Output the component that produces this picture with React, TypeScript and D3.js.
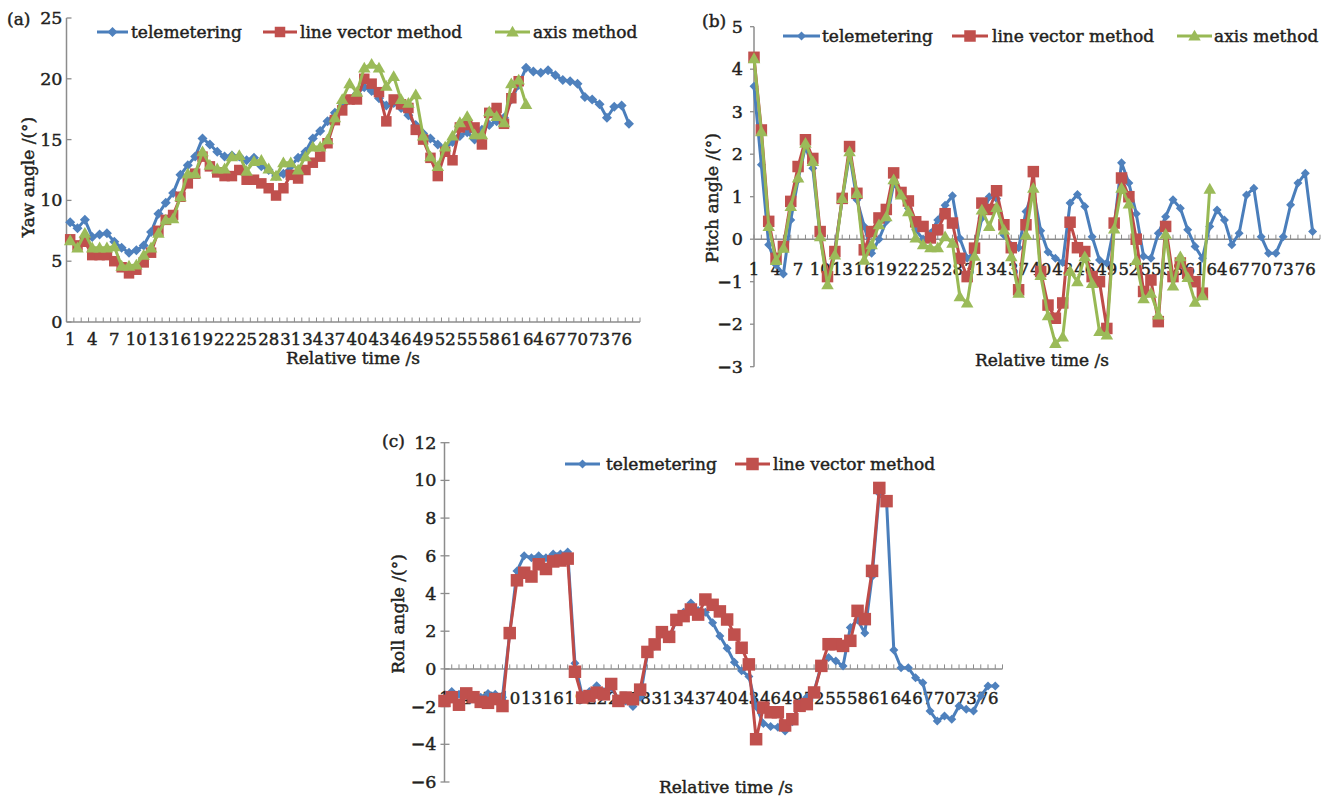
import React from 'react';
import * as d3 from 'd3';

// ---------- data ----------
const X_TICK_LABELS = [1, 4, 7, 10, 13, 16, 19, 22, 25, 28, 31, 34, 37, 40, 43, 46, 49, 52, 55, 58, 61, 64, 67, 70, 73, 76];
const YAW_TICKS = [0, 5, 10, 15, 20, 25];
const PITCH_TICKS = [-3, -2, -1, 0, 1, 2, 3, 4, 5];
const ROLL_TICKS = [-6, -4, -2, 0, 2, 4, 6, 8, 10, 12];
const CATEGORY_COUNT = 78;

const SERIES_NAMES = ['telemetering', 'line vector method', 'axis method'];

const yawTele = [8.2, 7.7, 8.4, 7.0, 7.2, 7.3, 6.6, 6.1, 5.7, 5.9, 6.3, 7.4, 8.9, 9.8, 10.6, 12.1, 12.9, 13.6, 15.1, 14.6, 14.0, 13.6, 13.7, 13.6, 13.3, 13.5, 12.8, 12.5, 12.0, 12.2, 12.8, 13.5, 14.0, 15.1, 15.7, 16.5, 17.2, 17.8, 18.3, 18.8, 19.3, 19.0, 18.4, 17.8, 18.0, 17.6, 17.0, 16.2, 15.5, 15.1, 14.6, 14.3, 14.8, 15.3, 15.6, 15.0, 15.8, 16.2, 16.5, 16.8, 18.3, 19.5, 20.9, 20.6, 20.5, 20.7, 20.3, 19.9, 19.8, 19.6, 18.5, 18.3, 17.9, 16.8, 17.7, 17.8, 16.3];
const yawLine = [6.8, 6.3, 6.6, 5.5, 5.5, 5.5, 5.0, 4.5, 4.0, 4.3, 4.9, 5.7, 7.5, 8.4, 8.8, 10.3, 11.4, 12.2, 13.6, 12.8, 12.3, 12.0, 12.0, 12.5, 11.7, 11.7, 11.4, 11.0, 10.4, 11.0, 12.1, 11.8, 12.5, 13.1, 13.6, 14.7, 16.6, 17.4, 18.3, 18.3, 20.0, 19.6, 18.9, 16.5, 18.3, 17.9, 17.6, 15.8, 15.0, 13.5, 12.0, 14.0, 13.3, 16.0, 16.2, 16.0, 14.6, 17.2, 17.6, 16.3, 18.4, 19.8];
const yawAxis = [6.7, 6.1, 7.3, 6.1, 6.1, 6.1, 6.2, 4.6, 4.6, 4.7, 5.5, 6.1, 7.3, 8.4, 8.5, 10.3, 12.2, 12.2, 14.0, 12.9, 12.6, 12.6, 13.6, 13.7, 12.4, 13.2, 13.3, 12.6, 12.0, 13.1, 13.1, 12.5, 13.6, 14.4, 14.4, 15.0, 16.8, 18.3, 19.6, 18.9, 20.9, 21.2, 20.9, 19.4, 20.2, 18.3, 18.0, 18.7, 15.3, 13.6, 12.8, 14.4, 15.3, 16.4, 16.9, 15.4, 15.4, 17.3, 16.9, 16.4, 19.6, 19.9, 17.9];

const pitchTele = [3.6, 1.75, -0.13, -0.6, -0.82, 0.45, 1.4, 2.18, 1.67, 0.06, -0.95, -0.25, 0.93, 2.0, 0.93, 0.3, -0.33, 0.0, 0.42, 1.3, 1.08, 0.73, 0.22, 0.0, 0.14, 0.45, 0.8, 1.02, 0.02, -0.45, -0.3, 0.5, 1.0, 0.95, 0.1, -0.15, -0.2, 0.65, 1.15, 0.2, -0.3, -0.45, -0.55, 0.85, 1.05, 0.77, 0.06, -0.49, -0.56, 0.3, 1.8, 1.32, 0.6, -0.4, -0.45, 0.14, 0.53, 0.93, 0.73, 0.22, -0.17, -0.45, 0.3, 0.69, 0.45, -0.13, 0.14, 1.04, 1.2, 0.06, -0.33, -0.33, 0.06, 0.81, 1.32, 1.55, 0.18];
const pitchLine = [4.28, 2.57, 0.42, -0.45, -0.17, 0.89, 1.71, 2.34, 1.9, 0.18, -0.88, -0.29, 0.96, 2.18, 1.08, -0.25, 0.18, 0.5, 0.7, 1.56, 1.1, 0.9, 0.41, 0.3, 0.03, 0.22, 0.6, 0.38, -0.45, -0.88, -0.21, 0.85, 0.7, 1.14, 0.34, -0.2, -1.19, 0.34, 1.59, -0.76, -1.55, -1.86, -1.5, 0.4, -0.2, -0.29, -0.88, -1.0, -2.1, 0.38, 1.44, 1.0, 0.0, -1.23, -0.96, -1.94, 0.3, -0.88, -0.56, -0.8, -1.0, -1.27];
const pitchAxis = [4.25, 2.53, 0.3, -0.5, -0.21, 0.77, 1.44, 2.26, 1.83, 0.06, -1.07, -0.37, 0.96, 2.06, 1.08, -0.49, -0.13, 0.34, 0.53, 1.4, 1.04, 0.65, 0.03, -0.13, -0.2, -0.2, 0.06, -0.09, -1.35, -1.5, -0.4, 0.69, 0.3, 0.75, 0.22, -0.41, -1.27, 0.1, 1.2, -0.85, -1.8, -2.45, -2.3, -0.75, -1.0, -0.41, -1.04, -2.17, -2.25, 0.24, 1.2, 0.83, -0.5, -1.4, -1.27, -1.78, 0.12, -1.1, -0.41, -0.9, -1.48, -1.33, 1.18];

const rollTele = [-1.6, -1.2, -1.35, -1.4, -1.5, -1.5, -1.3, -1.35, -1.5, 1.9, 5.2, 6.0, 5.9, 6.0, 5.9, 6.1, 6.1, 6.2, 0.3, -1.4, -1.2, -0.9, -1.2, -1.0, -1.6, -1.7, -2.0, -1.5, 0.8, 1.2, 1.9, 1.6, 2.6, 3.0, 3.5, 3.1, 3.0, 2.45, 1.74, 1.1, 0.35, -0.1, -0.4, -2.0, -2.9, -3.05, -3.1, -3.3, -2.8, -1.8, -1.5, -1.2, 0.2, 0.6, 0.42, 0.15, 2.2, 2.6, 1.9, 4.9, 9.3, 8.9, 1.0, 0.06, 0.06, -0.47, -0.73, -2.24, -2.77, -2.5, -2.67, -1.97, -2.14, -2.24, -1.44, -0.91, -0.91];
const rollLine = [-1.7, -1.5, -1.9, -1.3, -1.5, -1.75, -1.8, -1.6, -1.97, 1.9, 4.7, 5.1, 4.9, 5.55, 5.3, 5.7, 5.75, 5.85, -0.15, -1.52, -1.44, -1.26, -1.35, -0.8, -1.7, -1.52, -1.61, -1.1, 0.9, 1.3, 1.95, 1.7, 2.6, 2.8, 3.15, 2.88, 3.68, 3.4, 3.05, 2.62, 1.82, 1.12, 0.24, -3.73, -2.05, -2.3, -2.3, -3.0, -2.67, -1.96, -1.87, -1.25, 0.16, 1.31, 1.31, 1.22, 1.49, 3.08, 2.64, 5.2, 9.6, 8.9];

// ---------- styles ----------
const FONT = '"DejaVu Serif", "Liberation Serif", serif';
const TEXT = '#231f20';
const AXIS = '#8c8c8c';
const BLUE = { line: '#4A7EBB', fill: '#4F81BD' };
const RED = { line: '#BE4B48', fill: '#C0504D' };
const GREEN = { line: '#98B954', fill: '#9BBB59' };
const TXT = { fill: TEXT, stroke: TEXT, strokeWidth: 0.45 };

type MarkerKind = 'diamond' | 'square' | 'triangle';

interface SeriesDef {
  name: string;
  values: number[];
  color: { line: string; fill: string };
  marker: MarkerKind;
  size: number;
}

function Marker({ kind, size, x, y, fill }: { kind: MarkerKind; size: number; x: number; y: number; fill: string }) {
  if (kind === 'square') {
    return <rect x={x - size / 2} y={y - size / 2} width={size} height={size} fill={fill} />;
  }
  if (kind === 'diamond') {
    const r = size / 2;
    return <path d={`M${x},${y - r}L${x + r},${y}L${x},${y + r}L${x - r},${y}Z`} fill={fill} />;
  }
  const area = (Math.sqrt(3) / 4) * size * size;
  const p = d3.symbol(d3.symbolTriangle, area)() as string;
  return <path d={p} transform={`translate(${x},${y + 1})`} fill={fill} />;
}

interface PanelProps {
  tag: string;
  tagPos: [number, number];
  xDomain: [number, number];
  xRange: [number, number];
  yDomain: [number, number];
  yRange: [number, number];
  yTicks: number[];
  axisAt: number;
  tickPositions: number[];
  xLabelDy: number;
  yTickDir: 'in' | 'out' | 'cross';
  yLabelGap: number;
  series: SeriesDef[];
  legend: { lineX: [number, number]; textX: number }[];
  legendY: number;
  yTitle: string;
  yTitlePos: [number, number];
  xTitlePos: [number, number];
}

function fmt(v: number) {
  return v < 0 ? '\u2212' + Math.abs(v) : String(v);
}

function Panel(p: PanelProps) {
  const x = d3.scaleLinear().domain(p.xDomain).range(p.xRange);
  const y = d3.scaleLinear().domain(p.yDomain).range(p.yRange);
  const y0 = y(p.axisAt);
  const ax = p.xRange[0];
  const line = d3
    .line<number>()
    .x((_, i) => x(i + 1))
    .y((d) => y(d));
  const fs = 16.5;
  return (
    <g fontFamily={FONT}>
      <text x={p.tagPos[0]} y={p.tagPos[1]} fontSize={17} {...TXT}>{p.tag}</text>
      {/* y axis */}
      <line x1={ax} x2={ax} y1={p.yRange[1]} y2={p.yRange[0]} stroke={AXIS} strokeWidth={1.5} />
      {p.yTicks.map((t) => {
        const yy = y(t);
        const x1 = p.yTickDir === 'in' ? ax : ax - 4;
        const x2 = p.yTickDir === 'out' ? ax : ax + 5;
        return (
          <g key={t}>
            <line x1={x1} x2={x2} y1={yy} y2={yy} stroke={AXIS} strokeWidth={1.3} />
            <text x={ax - p.yLabelGap} y={yy + 6} textAnchor="end" fontSize={17.5} {...TXT}>{fmt(t)}</text>
          </g>
        );
      })}
      {/* x axis */}
      <line x1={ax} x2={p.xRange[1]} y1={y0} y2={y0} stroke={AXIS} strokeWidth={1.5} />
      {p.tickPositions.map((t) => (
        <line key={t} x1={x(t)} x2={x(t)} y1={y0} y2={y0 - 4.5} stroke={AXIS} strokeWidth={1} />
      ))}
      {X_TICK_LABELS.map((t) => (
        <text key={t} x={x(t)} y={y0 + p.xLabelDy} textAnchor="middle" fontSize={fs} {...TXT}>{t}</text>
      ))}
      {/* series */}
      {p.series.map((s) => (
        <g key={s.name}>
          <path d={line(s.values) as string} fill="none" stroke={s.color.line} strokeWidth={3} strokeLinejoin="round" />
          {s.values.map((v, i) => (
            <Marker key={i} kind={s.marker} size={s.size} x={x(i + 1)} y={y(v)} fill={s.color.fill} />
          ))}
        </g>
      ))}
      {/* legend */}
      {p.series.map((s, k) => {
        const L = p.legend[k];
        const mx = (L.lineX[0] + L.lineX[1]) / 2;
        return (
          <g key={'lg' + s.name}>
            <line x1={L.lineX[0]} x2={L.lineX[1]} y1={p.legendY} y2={p.legendY} stroke={s.color.line} strokeWidth={3} />
            <Marker kind={s.marker} size={s.size} x={mx} y={p.legendY} fill={s.color.fill} />
            <text x={L.textX} y={p.legendY + 6} fontSize={17} {...TXT}>{s.name}</text>
          </g>
        );
      })}
      {/* titles */}
      <text
        transform={`translate(${p.yTitlePos[0]},${p.yTitlePos[1]}) rotate(-90)`}
        textAnchor="middle"
        fontSize={17}
        {...TXT}
      >
        {p.yTitle}
      </text>
      <text x={p.xTitlePos[0]} y={p.xTitlePos[1]} textAnchor="middle" fontSize={17} {...TXT}>
        Relative time /s
      </text>
    </g>
  );
}

const bandTicks = d3.range(0.5, CATEGORY_COUNT + 0.51, 1);
const catTicks = d3.range(1, CATEGORY_COUNT + 1, 1);

export default function App() {
  return (
    <svg
      width={1332}
      height={798}
      style={{ position: 'absolute', left: 0, top: 0, background: '#fff' }}
    >
      <rect width={1332} height={798} fill="#fff" />
      <Panel
        tag="(a)"
        tagPos={[7, 25]}
        xDomain={[0.5, CATEGORY_COUNT + 0.5]}
        xRange={[66.5, 640]}
        yDomain={[0, 25]}
        yRange={[322, 18]}
        yTicks={YAW_TICKS}
        axisAt={0}
        tickPositions={bandTicks}
        xLabelDy={23}
        yTickDir="in"
        yLabelGap={4}
        series={[
          { name: SERIES_NAMES[0], values: yawTele, color: BLUE, marker: 'diamond', size: 10 },
          { name: SERIES_NAMES[1], values: yawLine, color: RED, marker: 'square', size: 10.5 },
          { name: SERIES_NAMES[2], values: yawAxis, color: GREEN, marker: 'triangle', size: 12.5 },
        ]}
        legend={[
          { lineX: [97, 128], textX: 131 },
          { lineX: [263, 297], textX: 300 },
          { lineX: [495, 530], textX: 533 },
        ]}
        legendY={32}
        yTitle="Yaw angle /(°)"
        yTitlePos={[34, 177]}
        xTitlePos={[353, 364]}
      />
      <Panel
        tag="(b)"
        tagPos={[702, 27]}
        xDomain={[1, CATEGORY_COUNT]}
        xRange={[754, 1320]}
        yDomain={[-3, 5]}
        yRange={[366.7, 26.7]}
        yTicks={PITCH_TICKS}
        axisAt={0}
        tickPositions={catTicks}
        xLabelDy={36}
        yTickDir="out"
        yLabelGap={11}
        series={[
          { name: SERIES_NAMES[0], values: pitchTele, color: BLUE, marker: 'diamond', size: 9 },
          { name: SERIES_NAMES[1], values: pitchLine, color: RED, marker: 'square', size: 11.5 },
          { name: SERIES_NAMES[2], values: pitchAxis, color: GREEN, marker: 'triangle', size: 12.5 },
        ]}
        legend={[
          { lineX: [783, 820], textX: 822 },
          { lineX: [952, 988], textX: 992 },
          { lineX: [1177, 1212], textX: 1214 },
        ]}
        legendY={36}
        yTitle="Pitch angle /(°)"
        yTitlePos={[718, 198]}
        xTitlePos={[1042, 366]}
      />
      <Panel
        tag="(c)"
        tagPos={[382, 447]}
        xDomain={[1, CATEGORY_COUNT]}
        xRange={[444.5, 1002.5]}
        yDomain={[-6, 12]}
        yRange={[782, 442.7]}
        yTicks={ROLL_TICKS}
        axisAt={0}
        tickPositions={catTicks}
        xLabelDy={35}
        yTickDir="cross"
        yLabelGap={8}
        series={[
          { name: SERIES_NAMES[0], values: rollTele, color: BLUE, marker: 'diamond', size: 9 },
          { name: SERIES_NAMES[1], values: rollLine, color: RED, marker: 'square', size: 12.5 },
        ]}
        legend={[
          { lineX: [565, 600], textX: 606 },
          { lineX: [735, 770], textX: 773 },
        ]}
        legendY={464}
        yTitle="Roll angle /(°)"
        yTitlePos={[404, 614]}
        xTitlePos={[726, 793]}
      />
    </svg>
  );
}
